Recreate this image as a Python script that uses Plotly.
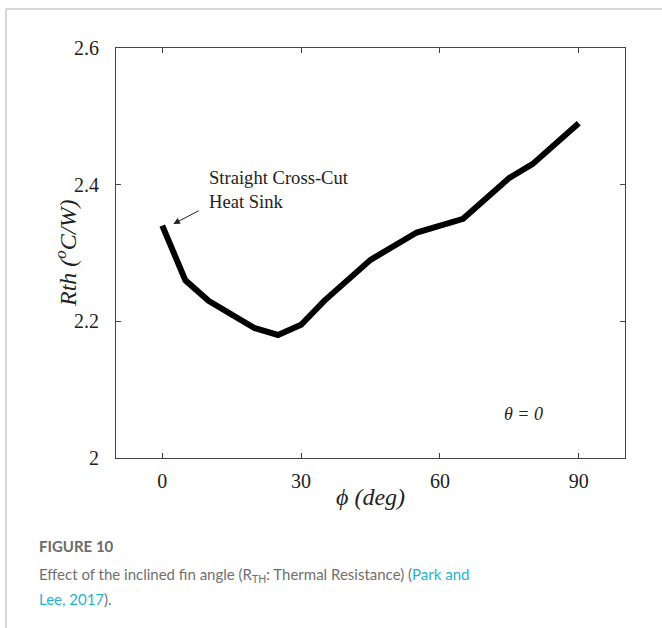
import plotly.graph_objects as go

# Data
phi_deg = [0, 5, 10, 20, 25, 30, 35, 45, 55, 65, 75, 80, 90]
rth = [2.34, 2.26, 2.23, 2.19, 2.18, 2.195, 2.23, 2.29, 2.33, 2.35, 2.41, 2.43, 2.49]
x_ticks = [0, 30, 60, 90]
y_ticks = [2.0, 2.2, 2.4, 2.6]
y_tick_text = ["2", "2.2", "2.4", "2.6"]

W, H = 662, 628
SERIF = "Liberation Serif"

def px(x):
    return x / W

def py(y):
    return 1 - y / H

fig = go.Figure()
fig.add_trace(go.Scatter(x=phi_deg, y=rth, mode="lines",
                         line=dict(color="black", width=6), hoverinfo="skip"))

axis_common = dict(showgrid=False, zeroline=False, showline=True, mirror="ticks",
                   automargin=False,
                   linecolor="#444", linewidth=1, ticks="inside", ticklen=5,
                   tickcolor="#444", tickfont=dict(family=SERIF, size=20, color="#222"))

fig.update_layout(
    template="none",
    width=W, height=H, margin=dict(l=0, r=0, t=0, b=0, autoexpand=False),
    paper_bgcolor="white", plot_bgcolor="white", showlegend=False,
    xaxis=dict(domain=[px(116), px(625)], range=[-10, 100], tickvals=x_ticks,
               ticklabelstandoff=5, **axis_common),
    yaxis=dict(domain=[py(458), py(48)], range=[2.0, 2.6], tickvals=y_ticks,
               ticktext=y_tick_text, ticklabelstandoff=12, **axis_common),
)

# axis titles
fig.add_annotation(xref="paper", yref="paper", x=px(66), y=py(254), text="<i>Rth</i> <i>(<sup>o</sup>C/W)</i>",
                   showarrow=False, textangle=-90, xanchor="center", yanchor="middle",
                   font=dict(family=SERIF, size=24, color="#222"))
fig.add_annotation(xref="paper", yref="paper", x=px(370), y=py(497), text="<i>ϕ (deg)</i>",
                   showarrow=False, xanchor="center", yanchor="middle",
                   font=dict(family=SERIF, size=24, color="#222"))

# in-plot labels
fig.add_annotation(xref="paper", yref="paper", x=px(207), y=py(189),
                   text="Straight Cross-Cut<br>Heat Sink", align="left", showarrow=False,
                   xanchor="left", yanchor="middle",
                   font=dict(family=SERIF, size=18.6, color="#222"))
fig.add_annotation(x=2.4, y=2.3425, ax=8.2, ay=2.363, axref="x", ayref="y", text="",
                   showarrow=True, arrowhead=2, arrowsize=1.3, arrowwidth=1, arrowcolor="#222")
fig.add_annotation(xref="paper", yref="paper", x=px(523), y=py(414), text="<i>θ = 0</i>",
                   showarrow=False, xanchor="center", yanchor="middle",
                   font=dict(family=SERIF, size=18, color="#222"))

# caption
CAP = "Lato"
LINK = "#1fb3cc"
fig.add_annotation(xref="paper", yref="paper", x=px(37), y=py(546), text="<b>FIGURE 10</b>",
                   showarrow=False, xanchor="left", yanchor="middle",
                   font=dict(family=CAP, size=15, color="#6b6b6b"))
fig.add_annotation(xref="paper", yref="paper", x=px(37), y=py(575),
                   text=f"Effect of the inclined fin angle (R<sub>TH</sub>: Thermal Resistance) (<span style='color:{LINK}'>Park and</span>",
                   showarrow=False, xanchor="left", yanchor="middle",
                   font=dict(family=CAP, size=15, color="#707070"))
fig.add_annotation(xref="paper", yref="paper", x=px(37), y=py(599),
                   text=f"<span style='color:{LINK}'>Lee, 2017</span>).",
                   showarrow=False, xanchor="left", yanchor="middle",
                   font=dict(family=CAP, size=15, color="#707070"))

# card border
fig.add_shape(type="line", xref="paper", yref="paper", x0=px(6), x1=1, y0=py(9), y1=py(9),
              line=dict(color="#c8c8c8", width=1.5))
fig.add_shape(type="line", xref="paper", yref="paper", x0=px(6), x1=px(6), y0=py(9), y1=0,
              line=dict(color="#c8c8c8", width=1.5))

fig.write_html("out.html")
